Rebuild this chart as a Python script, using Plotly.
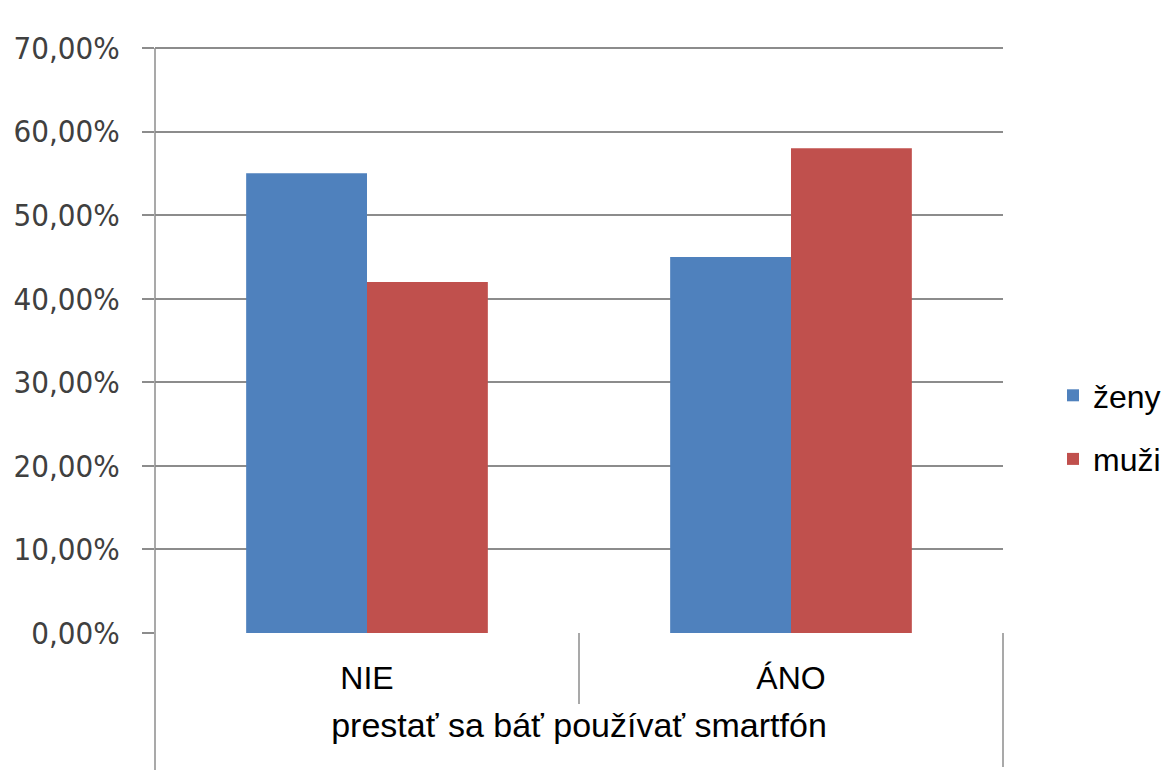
import plotly.graph_objects as go

categories = ["NIE", "ÁNO"]
zeny = [0.55, 0.45]
muzi = [0.42, 0.58]
series_names = ["ženy", "muži"]
x_title = "prestať sa báť používať smartfón"

BLUE = "#4F81BD"
RED = "#C0504D"
GRID = "#8C8C8C"
FONT = "Liberation Sans, Arial, sans-serif"
TICKFONT = "Liberation Sans Narrow, DejaVu Sans Condensed, Liberation Sans, sans-serif"

fig = go.Figure()
fig.add_trace(go.Bar(x=categories, y=zeny, name=series_names[0], marker=dict(color=BLUE, line=dict(width=0)),
                     legendgroup="a"))
fig.add_trace(go.Bar(x=categories, y=muzi, name=series_names[1], marker=dict(color=RED, line=dict(width=0)),
                     legendgroup="b"))

OFF = 8  # page body margin
W, H = 1169, 774
# target plot area in page pixels (70 % gridline at 48, 0 % at 633)
Y70, PB = 48, 633
EXTRA = 3  # a few pixels of headroom so the top gridline is drawn
PL, PR, PT = 155, 1003, Y70 - EXTRA
L, T = PL - OFF, PT - OFF
R = W - (PR - OFF)
B = H - (PB - OFF)
ph = PB - PT
ymax = 0.7 * (PB - PT) / (PB - Y70)

def py(pix):
    return (PB - pix) / ph

fig.update_layout(
    width=W, height=H,
    margin=dict(l=L, r=R, t=T, b=B, pad=0, autoexpand=False),
    paper_bgcolor="white", plot_bgcolor="white",
    barmode="group", bargap=0.43, bargroupgap=0,
    separators=", ",
    showlegend=True,
    legend=dict(xref="container", yref="container",
                x=(1045 - OFF + 8) / W, y=1 - (427.5 - OFF) / H, xanchor="left", yanchor="middle",
                font=dict(family=FONT, size=32, color="#000000"),
                traceorder="grouped", tracegroupgap=19, bgcolor="rgba(0,0,0,0)"),
    xaxis=dict(
        type="category", showgrid=False, zeroline=False, showline=False, ticks="",
        tickfont=dict(family=FONT, size=32, color="#000000"),
        ticklabelstandoff=23,
        title=dict(text=x_title, font=dict(family=FONT, size=34, color="#000000"), standoff=18),
    ),
    yaxis=dict(
        range=[0, ymax], tickvals=[0, 0.1, 0.2, 0.3, 0.4, 0.5, 0.6, 0.7], tickformat=".2%",
        showgrid=True, gridcolor=GRID, gridwidth=1.5,
        zeroline=False, showline=False,
        ticks="outside", ticklen=12, tickcolor=GRID, tickwidth=1.5,
        tickfont=dict(family=TICKFONT, size=31, color="#404040"),
        ticklabelstandoff=16,
    ),
    shapes=[
        dict(type="line", xref="paper", yref="paper", x0=0, x1=0, y0=py(Y70), y1=py(770),
             line=dict(color=GRID, width=1.5)),
        dict(type="line", xref="paper", yref="paper", x0=0.5, x1=0.5, y0=0, y1=py(704),
             line=dict(color=GRID, width=1.5)),
        dict(type="line", xref="paper", yref="paper", x0=1, x1=1, y0=0, y1=py(767),
             line=dict(color=GRID, width=1.5)),
    ],
)

fig.write_html("out.html")
